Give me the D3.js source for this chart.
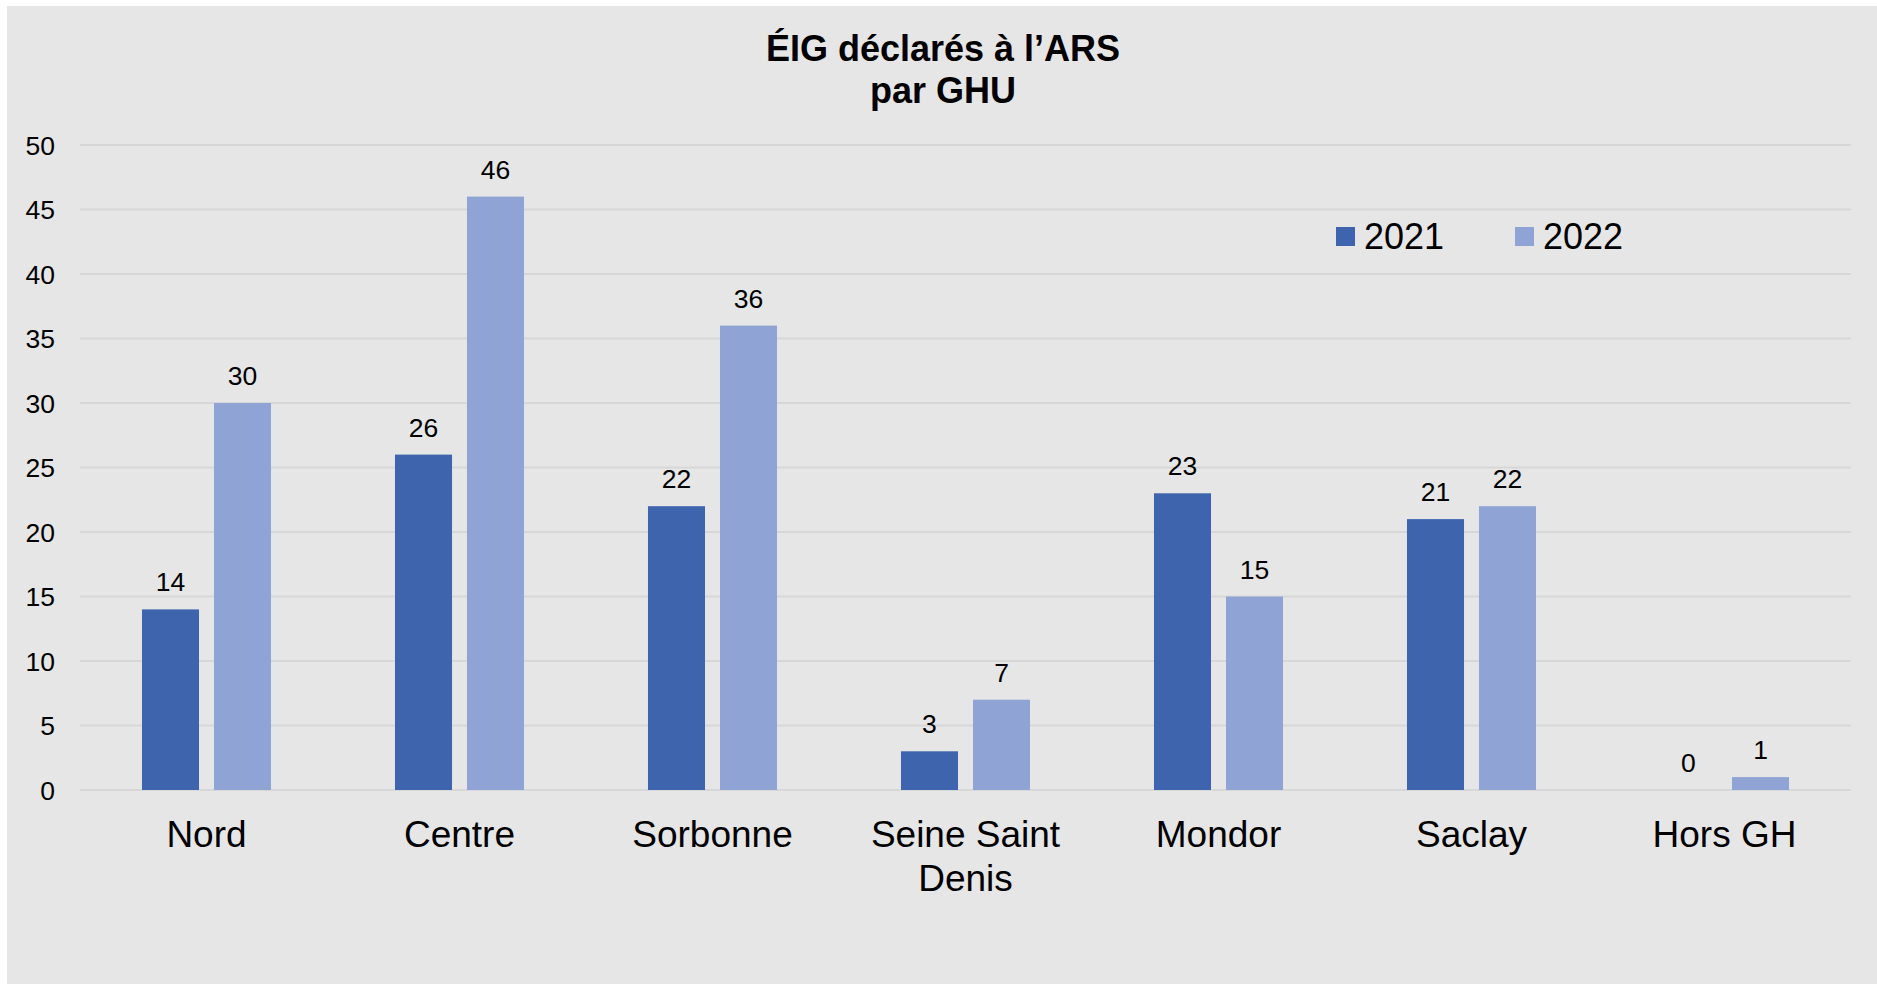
<!DOCTYPE html>
<html>
<head>
<meta charset="utf-8">
<script src="https://cdn.jsdelivr.net/npm/d3@7"></script>
<style>
html,body{margin:0;padding:0;background:#fff;}
svg{display:block;font-family:"Liberation Sans",Arial,sans-serif;}
</style>
</head>
<body>
<svg id="chart" width="1877" height="984"></svg>
<script>
const categories = ["Nord", "Centre", "Sorbonne", "Seine Saint Denis", "Mondor", "Saclay", "Hors GH"];
const categoryLines = [["Nord"], ["Centre"], ["Sorbonne"], ["Seine Saint", "Denis"], ["Mondor"], ["Saclay"], ["Hors GH"]];
const seriesNames = ["2021", "2022"];
const values2021 = [14, 26, 22, 3, 23, 21, 0];
const values2022 = [30, 46, 36, 7, 15, 22, 1];
const yTicks = [0, 5, 10, 15, 20, 25, 30, 35, 40, 45, 50];
const titleLines = ["ÉIG déclarés à l’ARS", "par GHU"];
const colors = {"2021": "#3d64ad", "2022": "#8fa4d5"};

(function () {
const svg = d3.select("#chart");
svg.append("rect").attr("x", 7).attr("y", 6).attr("width", 1870).attr("height", 978).attr("fill", "#e6e6e6");

const plotLeft = 80, plotRight = 1851, plotTop = 145, plotBottom = 790;

const x0 = d3.scaleBand().domain(categories).range([plotLeft, plotRight]).paddingInner(0.49).paddingOuter(0.245);
const x1 = d3.scaleBand().domain(seriesNames).range([0, x0.bandwidth()]).paddingInner(0.208);
const y = d3.scaleLinear().domain([0, 50]).range([plotBottom, plotTop]);

// gridlines
svg.append("g").selectAll("line").data(yTicks).join("line")
  .attr("x1", plotLeft).attr("x2", plotRight)
  .attr("y1", d => y(d)).attr("y2", d => y(d))
  .attr("stroke", "#d7d7d7").attr("stroke-width", 2);

// y axis labels
const yAxis = d3.axisLeft(y).tickValues(yTicks).tickSize(0).tickPadding(0);
const gy = svg.append("g").attr("transform", "translate(55,0)").call(yAxis);
gy.select(".domain").remove();
gy.selectAll("text").attr("font-size", 26.5).attr("fill", "#000").attr("font-family", "Liberation Sans, Arial, sans-serif").attr("dy", "0.35em");

const rows = categories.map((c, i) => ({cat: c, vals: [{s: "2021", v: values2021[i]}, {s: "2022", v: values2022[i]}]}));

const groups = svg.append("g").selectAll("g").data(rows).join("g")
  .attr("transform", d => `translate(${x0(d.cat)},0)`);

groups.selectAll("rect").data(d => d.vals).join("rect")
  .attr("x", d => x1(d.s)).attr("width", x1.bandwidth())
  .attr("y", d => y(d.v)).attr("height", d => y(0) - y(d.v))
  .attr("fill", d => colors[d.s]);

groups.selectAll("text").data(d => d.vals).join("text")
  .attr("x", d => x1(d.s) + x1.bandwidth() / 2)
  .attr("y", d => y(d.v) - 18)
  .attr("text-anchor", "middle").attr("font-size", 26.5).attr("fill", "#000")
  .text(d => d.v);

// category labels
const cl = svg.append("g").selectAll("text").data(categories).join("text")
  .attr("x", d => x0(d) + x0.bandwidth() / 2)
  .attr("y", 847)
  .attr("text-anchor", "middle").attr("font-size", 37).attr("fill", "#000");
cl.selectAll("tspan").data((d, i) => categoryLines[i]).join("tspan")
  .attr("x", function() { return d3.select(this.parentNode).attr("x"); })
  .attr("dy", (d, i) => i === 0 ? 0 : 44)
  .text(d => d);

// title
svg.append("g").selectAll("text").data(titleLines).join("text")
  .attr("x", 943).attr("y", (d, i) => 61 + i * 42)
  .attr("text-anchor", "middle").attr("font-size", 36).attr("font-weight", "bold").attr("fill", "#000")
  .text(d => d);

// legend
const legendX = [1336, 1515];
const lg = svg.append("g").selectAll("g").data(seriesNames).join("g")
  .attr("transform", (d, i) => `translate(${legendX[i]},227)`);
lg.append("rect").attr("width", 19).attr("height", 19).attr("fill", d => colors[d]);
lg.append("text").attr("x", 28).attr("y", 22).attr("font-size", 36).attr("fill", "#000").text(d => d);
})();
</script>
</body>
</html>
